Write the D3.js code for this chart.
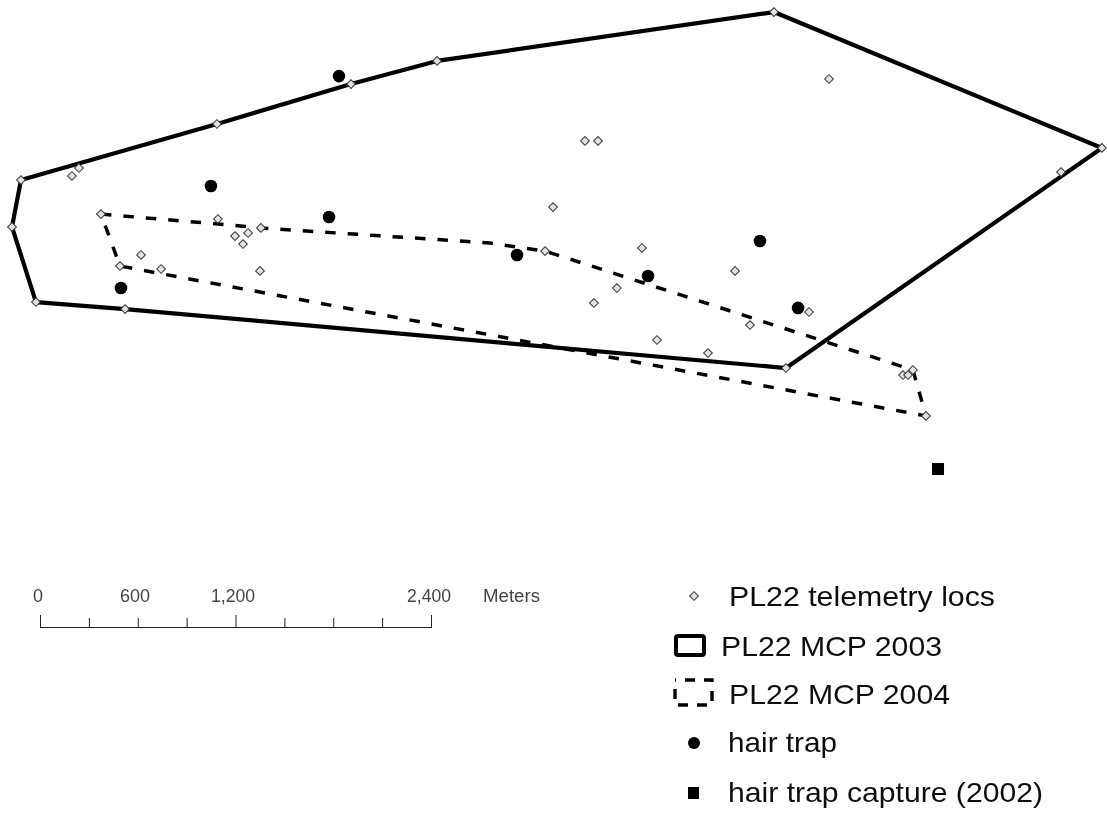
<!DOCTYPE html>
<html><head><meta charset="utf-8">
<script src="https://cdn.jsdelivr.net/npm/d3@7"></script>
<style>html,body{margin:0;background:#fff}svg{display:block}text{font-family:"Liberation Sans",Arial,sans-serif}</style>
</head><body><svg id="c" width="1107" height="814"></svg>
<script>
// Map coordinates in metres (easting, northing from an arbitrary origin)
const mcp2003 = [[4499,2995],[6512,2161],[4573,810],[516,1172],[-31,1215],[-178,1676],[-123,1964],[1080,2308],[1903,2553],[2431,2695]];
const mcp2004 = [[368,1755],[1086,1694],[1350,1670],[2756,1577],[3094,1528],[5352,798],[5432,516],[485,1436]];
const telemetry = [[4499,2995],[6512,2161],[4573,810],[516,1172],[-31,1215],[-178,1676],[-123,1964],[1080,2308],[1903,2553],[2431,2695],
  [4837,2584],[233,2038],[190,1989],[3339,2204],[3419,2204],[6261,2013],[3143,1798],[1086,1725],[1191,1620],[1271,1639],[1240,1571],[1350,1670],
  [614,1504],[485,1436],[737,1418],[1344,1406],[3689,1547],[4260,1406],[3535,1301],[3394,1209],[4714,1154],[4352,1074],[3781,982],[4094,902],
  [5291,767],[5322,767],[5352,798],[5432,516],[3094,1528],[368,1755]];
const hairTraps = [[1829,2602],[1043,1927],[1768,1737],[2922,1504],[3726,1375],[4413,1590],[4647,1179],[491,1301]];
const hairCapture = [[5506,190]];
const scaleTicks = [0,300,600,900,1200,1500,1800,2100,2400];
const scaleLabels = [[0,"0",38,10],[600,"600",135,30],[1200,"1,200",233,44],[2400,"2,400",429,44]];
const legendLabels = ["PL22 telemetry locs","PL22 MCP 2003","PL22 MCP 2004","hair trap","hair trap capture (2002)"];

const svg = d3.select("#c");
const x = d3.scaleLinear().domain([0,2400]).range([41,432]);
const y = d3.scaleLinear().domain([0,2400]).range([500,109]);
const line = d3.line().x(d=>x(d[0])).y(d=>y(d[1])).curve(d3.curveLinearClosed);
const map = svg.append("g");
const blur = svg.append("defs").append("filter").attr("id","b");
blur.append("feGaussianBlur").attr("stdDeviation",0.4);
map.attr("filter","url(#b)");

map.append("path").attr("d",line(mcp2004)).attr("fill","none").attr("stroke","#000").attr("stroke-width",3.5).attr("stroke-dasharray","10.5 12");
map.append("path").attr("d",line(mcp2003)).attr("fill","none").attr("stroke","#000").attr("stroke-width",4.2).attr("stroke-linejoin","round");
const diamond = d3.symbol().type(d3.symbolSquare).size(38);
map.selectAll("circle.h").data(hairTraps).join("circle").attr("class","h").attr("cx",d=>x(d[0])).attr("cy",d=>y(d[1])).attr("r",6.3).attr("fill","#000");
map.selectAll("rect.c").data(hairCapture).join("rect").attr("class","c").attr("x",d=>x(d[0])-6).attr("y",d=>y(d[1])-6).attr("width",12).attr("height",12).attr("fill","#000");
map.selectAll("path.t").data(telemetry).join("path").attr("class","t").attr("d",diamond)
  .attr("transform",d=>`translate(${x(d[0])},${y(d[1])}) rotate(45)`).attr("fill","#e2e2e2").attr("stroke","#3a3a3a").attr("stroke-width",1);

// scale bar
const bar = svg.append("g").attr("filter","url(#b)");
const bx = d3.scaleLinear().domain([0,2400]).range([40,431]);
bar.append("line").attr("x1",bx(0)).attr("x2",bx(2400)).attr("y1",627.5).attr("y2",627.5).attr("stroke","#222");
bar.selectAll("line.t").data(scaleTicks).join("line").attr("class","t")
  .attr("x1",d=>bx(d)+.5).attr("x2",d=>bx(d)+.5).attr("y1",d=>d%1200===0?615:618).attr("y2",628).attr("stroke","#222");
bar.selectAll("text").data(scaleLabels).join("text").attr("x",d=>d[2]-d[3]/2).attr("y",602)
  .attr("textLength",d=>d[3]).attr("lengthAdjust","spacingAndGlyphs")
  .attr("font-size",18).attr("fill","#444").text(d=>d[1]);
bar.append("text").attr("x",483).attr("y",602).attr("font-size",18).attr("fill","#444").attr("textLength",57).attr("lengthAdjust","spacingAndGlyphs").text("Meters");

// legend
const lg = svg.append("g").attr("filter","url(#b)");
const rows = [[729,606,266],[721,656,221],[729,704,221],[728,752,109],[728,802,315]];
lg.selectAll("text").data(legendLabels).join("text")
  .attr("x",(d,i)=>rows[i][0]).attr("y",(d,i)=>rows[i][1]).attr("textLength",(d,i)=>rows[i][2]).attr("lengthAdjust","spacingAndGlyphs")
  .attr("font-size",28.5).attr("fill","#111").text(d=>d);
lg.append("path").attr("d",diamond).attr("transform","translate(694,596) rotate(45)").attr("fill","#e2e2e2").attr("stroke","#3a3a3a");
lg.append("rect").attr("x",676).attr("y",636).attr("width",28).attr("height",19).attr("rx",2).attr("fill","none").attr("stroke","#000").attr("stroke-width",4);
lg.append("rect").attr("x",675).attr("y",680).attr("width",37).attr("height",25).attr("fill","none").attr("stroke","#000").attr("stroke-width",3.4).attr("stroke-dasharray","10 9").attr("stroke-dashoffset",-10);
lg.append("circle").attr("cx",694).attr("cy",743).attr("r",6).attr("fill","#000");
lg.append("rect").attr("x",688).attr("y",787).attr("width",11).attr("height",12).attr("fill","#000");
</script></body></html>
